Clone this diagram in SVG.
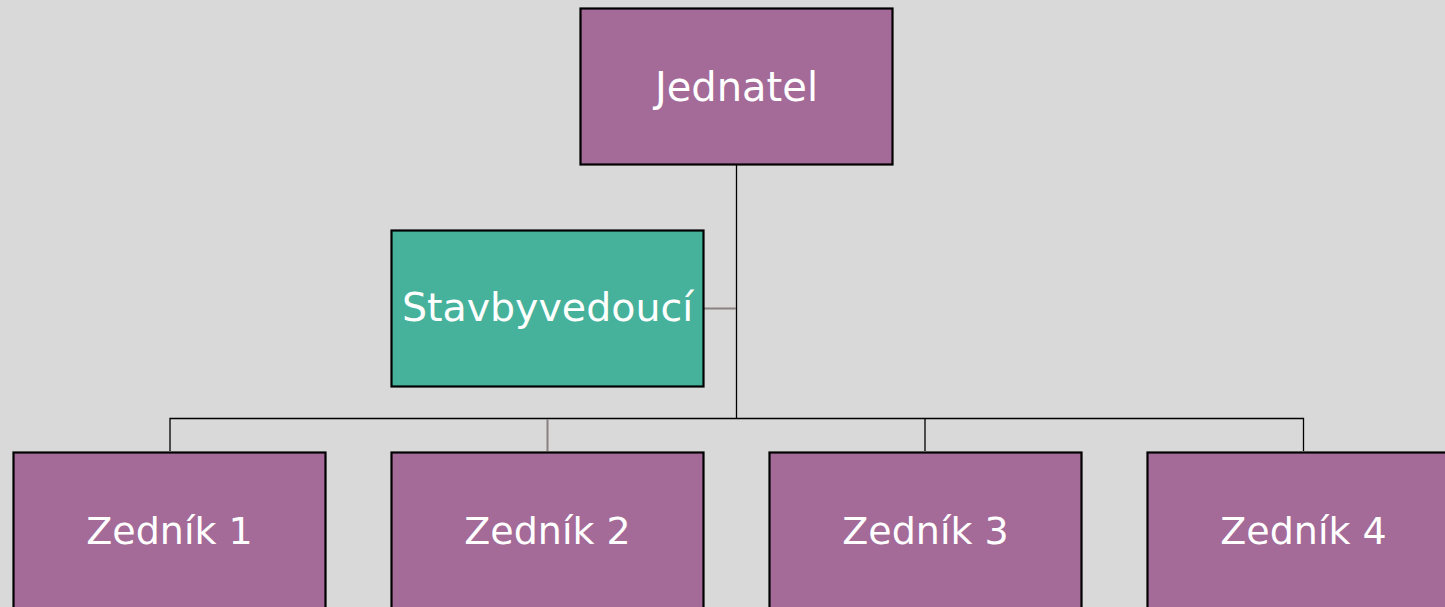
<svg xmlns="http://www.w3.org/2000/svg" width="1445" height="607" viewBox="0 0 1445 607">
<style>
.bg{fill:#d9d9d9}
.p{fill:#a46a98;stroke:#000;stroke-width:2.2}
.g{fill:#46b29b;stroke:#000;stroke-width:2.2}
.t{fill:#fff;font-family:"DejaVu Sans",Verdana,sans-serif;font-size:40px;text-anchor:middle}
.z{font-size:38px}
.s{font-size:39.5px}
.c{fill:none;stroke:#000;stroke-width:1.3}
.cg{fill:none;stroke:#8a8282;stroke-width:2}
</style>
<rect class="bg" x="0" y="0" width="1445" height="607"/>
<g id="connectors">
<path class="c" d="M736.5 164 V418.5 M170 451 V418.5 H1303.5 V451 M925 418.5 V451"/>
<path class="cg" d="M704 308.5 H736 M547.5 419 V451"/>
</g>
<g id="jednatel"><rect class="p" x="580.5" y="8.5" width="312" height="156"/><text class="t" x="736.5" y="100.5">Jednatel</text></g>
<g id="stavbyvedouci"><rect class="g" x="391.5" y="230.5" width="312" height="156"/><text class="t s" x="547.5" y="321">Stavbyvedoucí</text></g>
<g id="zednik1"><rect class="p" x="13.5" y="452.5" width="312" height="156"/><text class="t z" x="169.5" y="543.5">Zedník 1</text></g>
<g id="zednik2"><rect class="p" x="391.5" y="452.5" width="312" height="156"/><text class="t z" x="547.5" y="543.5">Zedník 2</text></g>
<g id="zednik3"><rect class="p" x="769.5" y="452.5" width="312" height="156"/><text class="t z" x="925.5" y="543.5">Zedník 3</text></g>
<g id="zednik4"><rect class="p" x="1147.5" y="452.5" width="312" height="156"/><text class="t z" x="1303.5" y="543.5">Zedník 4</text></g>
</svg>
